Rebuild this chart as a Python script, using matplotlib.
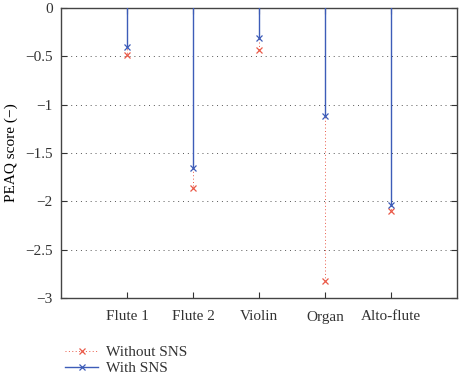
import matplotlib
matplotlib.use("Agg")
import matplotlib.pyplot as plt
from matplotlib.legend_handler import HandlerLine2D

# -------------------------------
# Data
# -------------------------------

instruments = ["Flute 1", "Flute 2", "Violin", "Organ", "Alto-flute"]
without_sns = [-0.49, -1.86, -0.43, -2.82, -2.10]
with_sns = [-0.40, -1.66, -0.31, -1.12, -2.04]

red = "#ea5a48"
blue = "#3d5cb8"

plt.rcParams["font.family"] = ["Liberation Serif", "DejaVu Serif"]
plt.rcParams["font.size"] = 11


class EndMarkerHandler(HandlerLine2D):
    # put the marker at the right end of the legend line (matlab stem style)
    def get_xdata(self, legend, xdescent, ydescent, width, height, fontsize):
        xdata = [-xdescent, -xdescent + width]
        return xdata, [-xdescent + width]


fig = plt.figure(figsize=(4.63, 3.78), dpi=100)
ax = fig.add_axes([61 / 463, 1 - 298 / 378, 396 / 463, 290 / 378])

x = list(range(1, len(instruments) + 1))

# ---------------------------------
# Stems
# ---------------------------------

for xi, v in zip(x, without_sns):
    ax.plot([xi, xi], [0, v], color=red, lw=0.7, ls=(0, (1, 2.5)), zorder=2)
l1, = ax.plot(x, without_sns, ls="none", marker="x", ms=4.5, mew=0.9,
              color=red, zorder=3)

for xi, v in zip(x, with_sns):
    ax.plot([xi, xi], [0, v], color=blue, lw=1.0, zorder=4)
l2, = ax.plot(x, with_sns, ls="none", marker="x", ms=4.5, mew=0.9,
              color=blue, zorder=5)

ax.set_xlim(0, 6)
ax.set_ylim(-3, 0)
ax.set_xticks(x)
ax.set_xticklabels(instruments)
ax.set_yticks([-3, -2.5, -2, -1.5, -1, -0.5, 0])
ax.set_yticklabels(["\u22123", "\u22122.5", "\u22122", "\u22121.5", "\u22121", "\u22120.5", "0"])
ax.set_ylabel("PEAQ score (\u2212)", labelpad=5)

ax.yaxis.grid(True, ls=(0, (1, 4)), color="#555555", lw=0.7)
ax.tick_params(direction="in", length=4, width=0.8, top=True, right=True,
               colors="#333333", labelcolor="#333333", labelsize=11, pad=6)
ax.tick_params(axis="x", pad=9)
for s in ax.spines.values():
    s.set_color("#444444")
    s.set_linewidth(1.0)

# legend handles with stem style lines
h1, = ax.plot([], [], color=red, lw=0.7, ls=(0, (1, 2.5)), marker="x", ms=4.5, mew=0.9)
h2, = ax.plot([], [], color=blue, lw=1.0, marker="x", ms=4.5, mew=0.9)

leg = fig.legend([h1, h2], ["Without SNS", "With SNS"], loc="upper left",
                 bbox_to_anchor=(54 / 463, 1 - 335 / 378), frameon=False,
                 handler_map={h1: EndMarkerHandler(numpoints=1),
                              h2: EndMarkerHandler(numpoints=1)},
                 handlelength=2.2, handletextpad=0.5, labelspacing=0.15,
                 borderpad=0.2, fontsize=11)
for t in leg.get_texts():
    t.set_color("#333333")

fig.savefig("out.png", dpi=100)
